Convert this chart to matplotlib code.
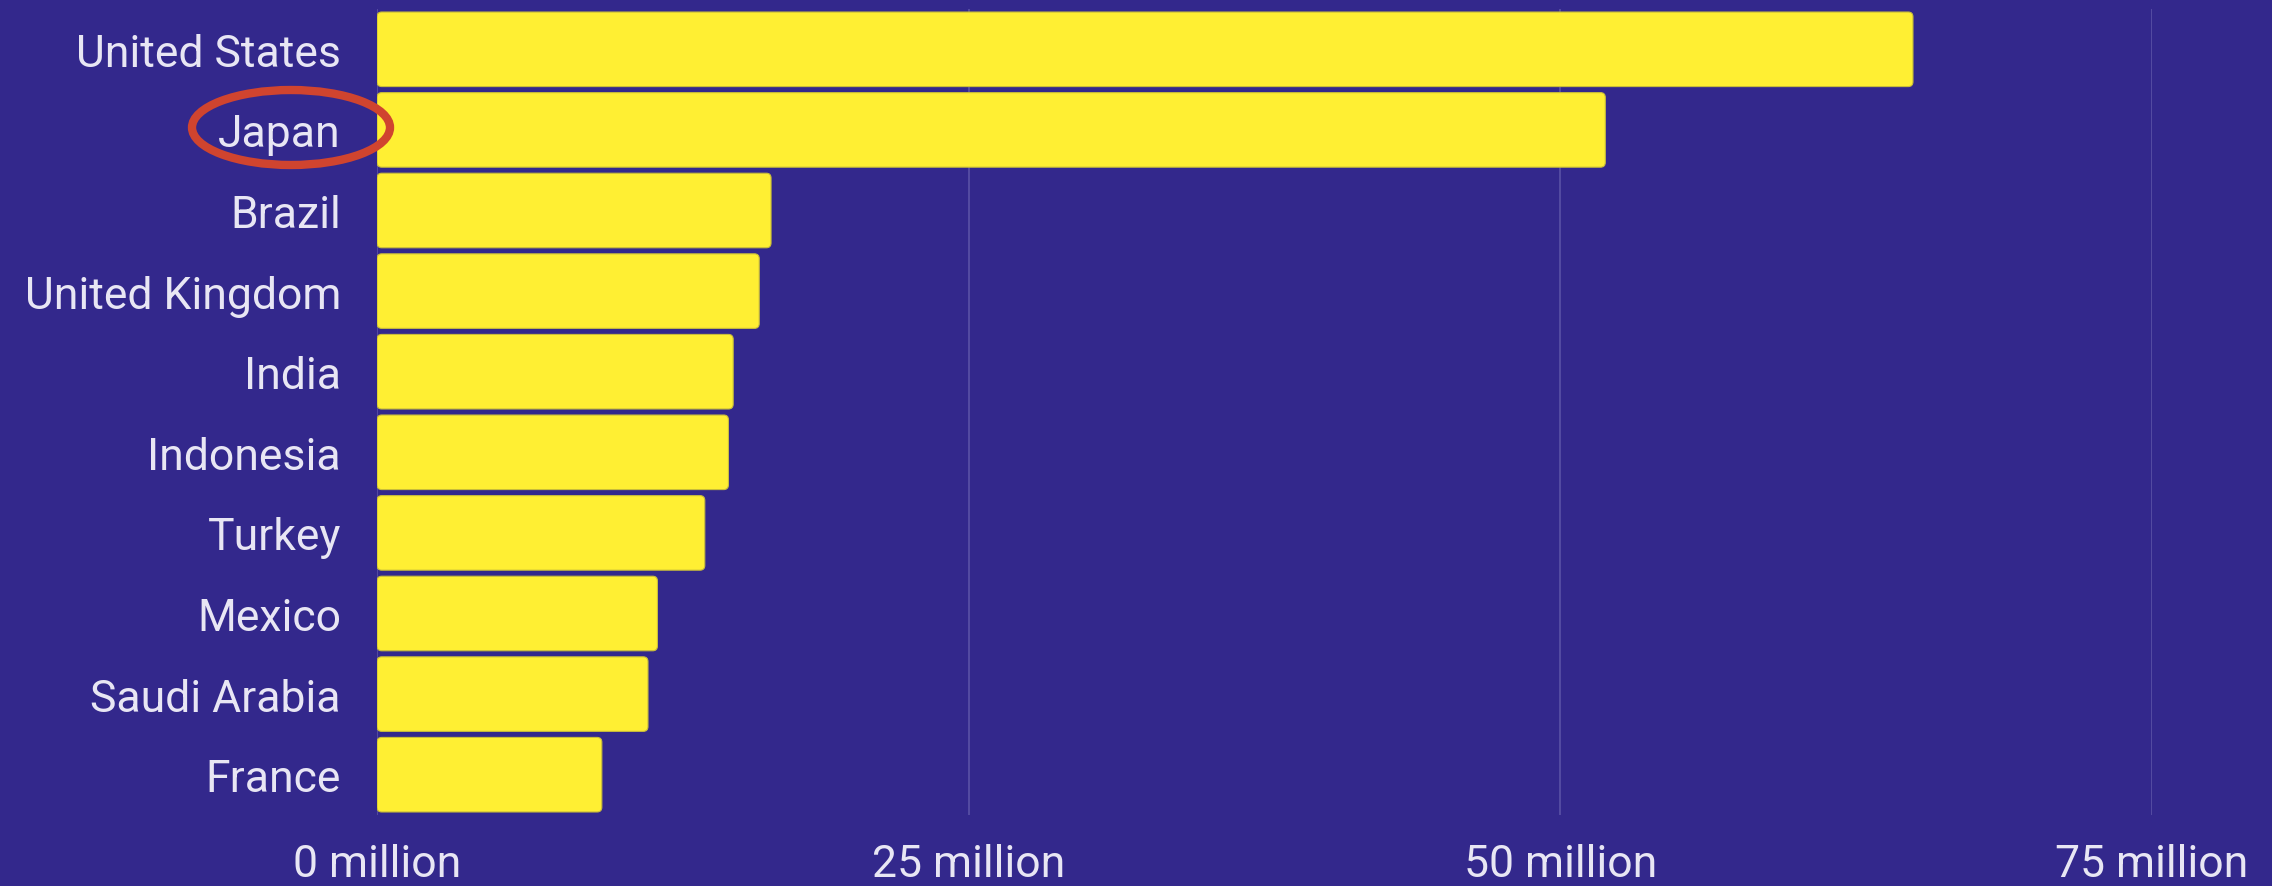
import matplotlib
matplotlib.use("Agg")
import matplotlib.pyplot as plt
from matplotlib.patches import FancyBboxPatch, Ellipse

countries = ["United States", "Japan", "Brazil", "United Kingdom", "India",
             "Indonesia", "Turkey", "Mexico", "Saudi Arabia", "France"]
values = [64.9, 51.9, 16.65, 16.15, 15.05, 14.85, 13.85, 11.85, 11.45, 9.5]
xticks = [0, 25, 50, 75]
xtick_labels = ["0 million", "25 million", "50 million", "75 million"]

bg = "#33288c"
bar_color = "#ffef33"
text_color = "#e8e6f4"

plt.rcParams["font.family"] = ["Roboto", "DejaVu Sans"]

fig = plt.figure(figsize=(22.72, 8.87), dpi=100, facecolor=bg)
ax = fig.add_axes([377 / 2272, 71 / 887, (2152 - 377) / 2272, (887 - 71 - 10) / 887])
ax.set_facecolor(bg)

bars = ax.barh(countries, values, height=0.925, color=bar_color)
# swap plain rectangles for slightly rounded ones
for b in bars:
    x, y = b.get_x(), b.get_y()
    w, h = b.get_width(), b.get_height()
    b.set_visible(False)
    ax.add_patch(FancyBboxPatch((x, y), w, h,
                                boxstyle="round,pad=0,rounding_size=0.2",
                                mutation_aspect=0.3,
                                facecolor=bar_color, edgecolor="#c9bd3a",
                                linewidth=0.8, zorder=3))

ax.set_xlim(0, 75)
ax.set_ylim(9.5, -0.5)
ax.set_xticks(xticks)
ax.set_xticklabels(xtick_labels)
ax.grid(axis="x", color="#6a62b0", linewidth=1.2, alpha=0.7)
ax.set_axisbelow(True)
for s in ax.spines.values():
    s.set_visible(False)
ax.tick_params(axis="x", length=0, pad=20, labelsize=32, labelcolor=text_color)
ax.tick_params(axis="y", length=0, pad=26, labelsize=32, labelcolor=text_color)

# red ring highlighting Japan
fig.patches.append(Ellipse((291 / 2272, 1 - 128.5 / 887), 198 / 2272, 75 / 887,
                           transform=fig.transFigure, fill=False,
                           edgecolor="#d0442f", linewidth=6))

fig.savefig("out.png", dpi=100, facecolor=bg)
